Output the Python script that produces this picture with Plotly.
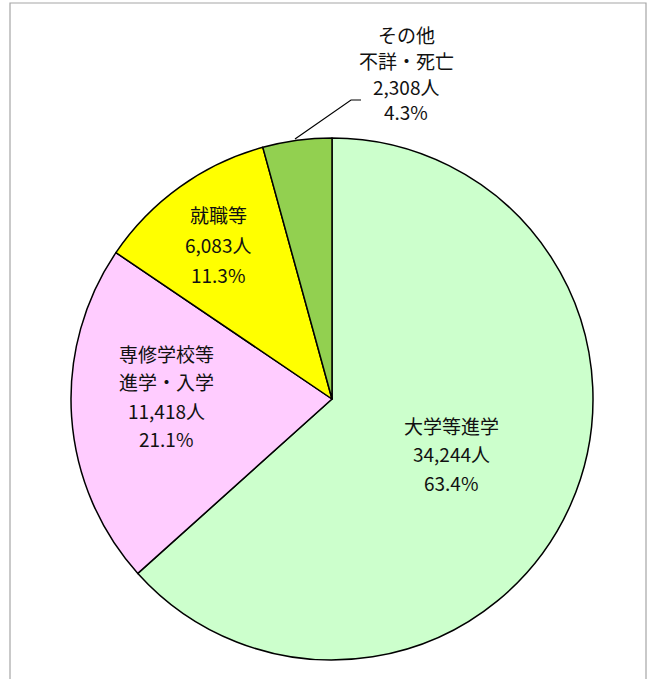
import plotly.graph_objects as go

# ---- data ----
categories = ["大学等進学", "専修学校等進学・入学", "就職等", "その他不詳・死亡"]
label_lines = [["大学等進学"], ["専修学校等", "進学・入学"], ["就職等"], ["その他", "不詳・死亡"]]
values = [34244, 11418, 6083, 2308]
percent_labels = ["63.4%", "21.1%", "11.3%", "4.3%"]
colors = ["#CCFFCC", "#FFCCFF", "#FFFF00", "#92D050"]

W, H = 660, 679
cx, cy, r = 332, 399, 261

fig = go.Figure(go.Pie(
    labels=categories, values=values, sort=False, direction="clockwise", rotation=0,
    marker=dict(colors=colors, line=dict(color="black", width=1.5)),
    textinfo="none", hoverinfo="label+value+percent", showlegend=False,
    domain=dict(x=[(cx - r) / W, (cx + r) / W], y=[(H - cy - r) / H, (H - cy + r) / H]),
))

# label anchor (centre x, first line y, line spacing) per slice, in window pixels
label_pos = [(451, 425, 28.5), (166, 353, 28.5), (218, 214, 30), (406, 34, 26)]

def px(x, y):
    return x / W, 1 - y / H

annotations = []
for i, (x, y0, dy) in enumerate(label_pos):
    lines = label_lines[i] + [f"{values[i]:,}人", percent_labels[i]]
    for j, t in enumerate(lines):
        ax, ay = px(x, y0 + j * dy)
        annotations.append(dict(
            x=ax, y=ay, xref="paper", yref="paper",
            text=t, showarrow=False, xanchor="center", yanchor="middle",
            font=dict(size=19, color="#111111", family="Noto Sans CJK JP"),
        ))

def pstr(x, y):
    a, b = px(x, y)
    return f"{a},{b}"

fx0, fy1 = px(10, 3)
fx1, _ = px(646, 3)
shapes = [
    # leader line for small slice
    dict(type="path", xref="paper", yref="paper",
         path=f"M {pstr(295, 139)} L {pstr(351, 100)} L {pstr(361, 100)}",
         line=dict(color="black", width=1.2)),
    # outer frame
    dict(type="rect", xref="paper", yref="paper",
         x0=fx0, x1=fx1, y0=-0.05, y1=fy1,
         line=dict(color="#A6A6A6", width=1.2), fillcolor="rgba(0,0,0,0)"),
]

fig.update_layout(
    width=W, height=H, margin=dict(l=0, r=0, t=0, b=0),
    paper_bgcolor="white", plot_bgcolor="white",
    annotations=annotations, shapes=shapes,
    font=dict(family="Noto Sans CJK JP"),
)

fig.write_html("out.html", config={"displayModeBar": False},
               post_script="document.body.style.margin='0px';document.body.style.overflow='hidden';")
